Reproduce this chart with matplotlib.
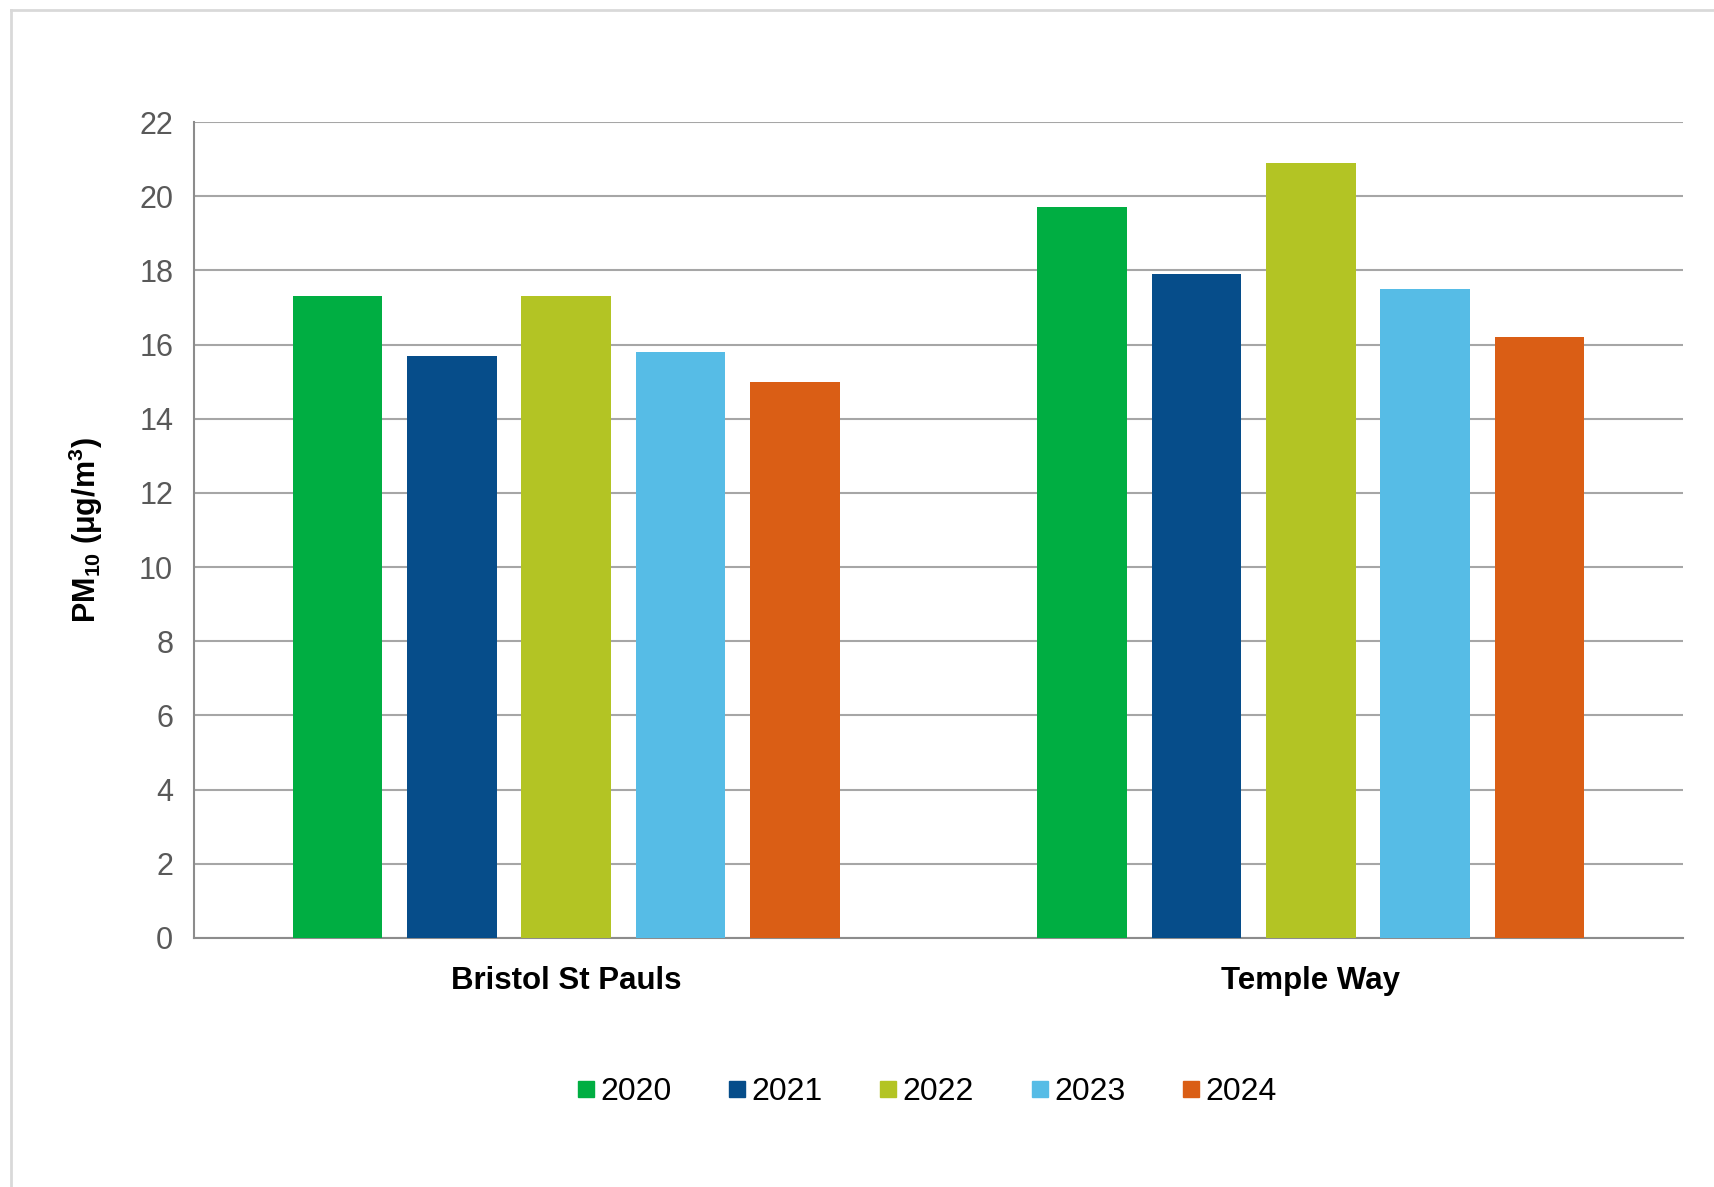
import numpy as np
import matplotlib
matplotlib.use("Agg")
import matplotlib.pyplot as plt
from matplotlib.lines import Line2D

plt.rcParams['font.family'] = ['Liberation Sans', 'DejaVu Sans']
plt.rcParams['mathtext.default'] = 'regular'

sites = ['Bristol St Pauls', 'Temple Way']
years = ['2020', '2021', '2022', '2023', '2024']
pm10_2020 = [17.3, 19.7]
pm10_2021 = [15.7, 17.9]
pm10_2022 = [17.3, 20.9]
pm10_2023 = [15.8, 17.5]
pm10_2024 = [15.0, 16.2]
series = [pm10_2020, pm10_2021, pm10_2022, pm10_2023, pm10_2024]
colors = ['#00AE42', '#064D8A', '#B3C424', '#56BCE6', '#DA5E15']

fig = plt.figure(figsize=(17.14, 11.87), dpi=100)
ax = fig.add_axes([0.1132, 0.2098, 0.8687, 0.6874])

ind = np.arange(len(sites))
pitch = 0.1536
width = 0.1205
for i in range(len(years)):
    ax.bar(ind + (i - 2) * pitch, series[i], width, color=colors[i], zorder=3)

ax.set_xlim(-0.5, 1.5)
ax.set_ylim(0, 22)
ax.set_yticks(range(0, 23, 2))
ax.set_xticks(ind)
ax.set_xticklabels(sites, fontsize=22.5, fontweight='bold', color='black')
ax.tick_params(axis='x', length=0, pad=20)
ax.tick_params(axis='y', length=0, pad=15, labelsize=22, labelcolor='#595959')
ax.grid(True, axis='y', color='#A6A6A6', linewidth=1.5, zorder=0)
for s in ['top', 'right']:
    ax.spines[s].set_visible(False)
ax.spines['left'].set_color('#8C8C8C')
ax.spines['bottom'].set_color('#8C8C8C')
ax.spines['left'].set_linewidth(1.5)
ax.spines['bottom'].set_linewidth(1.5)

fig.text(0.05, 0.5535, r'PM$_{10}$ ($\mu$g/m$^3$)', rotation=90, fontsize=22,
         fontweight='bold', ha='center', va='center')

handles = [Line2D([], [], marker='s', linestyle='none', markersize=11,
                  markerfacecolor=c, markeredgecolor=c) for c in colors]
fig.legend(handles, years, loc='center', bbox_to_anchor=(0.541, 0.080), ncol=5,
           frameon=False, fontsize=23, handletextpad=0.2, columnspacing=1.8,
           handlelength=0.5)

# light frame round the chart area
fig.add_artist(Line2D([0.0064, 1.0], [0.9916, 0.9916], color='#D9D9D9', linewidth=2))
fig.add_artist(Line2D([0.0064, 0.0064], [0.0, 0.9916], color='#D9D9D9', linewidth=2))

fig.savefig('out.png', dpi=100)
